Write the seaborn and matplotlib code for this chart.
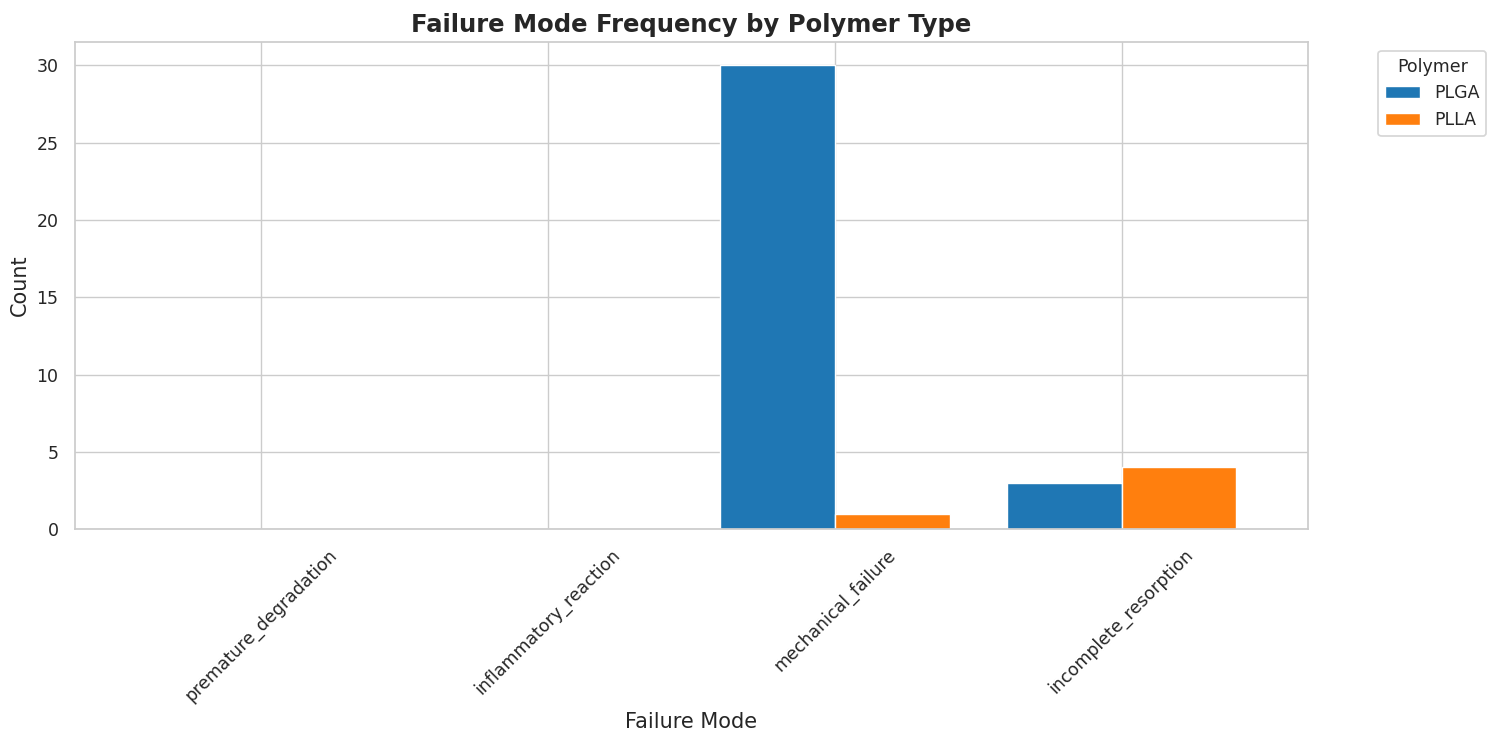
import matplotlib
matplotlib.use("Agg")
import matplotlib.pyplot as plt
import seaborn as sns
import pandas as pd

failure_modes = ["premature_degradation", "inflammatory_reaction", "mechanical_failure", "incomplete_resorption"]
polymers = ["PLGA", "PLLA"]
plga_counts = [0, 0, 30, 3]
plla_counts = [0, 0, 1, 4]
colors = ["#1f77b4", "#ff7f0e"]

sns.set_theme(style="whitegrid", rc={"grid.linewidth": 0.8, "axes.linewidth": 1.0})

df = pd.DataFrame({
    "Failure Mode": failure_modes * 2,
    "Polymer": [polymers[0]] * 4 + [polymers[1]] * 4,
    "Count": plga_counts + plla_counts,
})

fig, ax = plt.subplots(figsize=(12, 5.92), dpi=125)
sns.barplot(data=df, x="Failure Mode", y="Count", hue="Polymer", order=failure_modes,
            hue_order=polymers, palette=colors, saturation=1, width=0.8,
            edgecolor="white", linewidth=0.8, ax=ax)
ax.set_title("Failure Mode Frequency by Polymer Type", fontsize=14, fontweight="bold")
ax.set_xlabel("Failure Mode", fontsize=12)
ax.set_ylabel("Count", fontsize=12)
ax.set_ylim(0, 31.5)
ax.set_xlim(-0.65, 3.65)
ax.grid(True, axis="both")
ax.set_axisbelow(True)
plt.setp(ax.get_xticklabels(), rotation=45, ha="center")
ax.tick_params(labelsize=10)
ax.legend(title="Polymer", bbox_to_anchor=(1.05, 1), loc="upper left", fontsize=10, title_fontsize=10)
fig.subplots_adjust(left=0.05, right=0.872, top=0.943, bottom=0.285)
fig.savefig("out.png", dpi=125)
